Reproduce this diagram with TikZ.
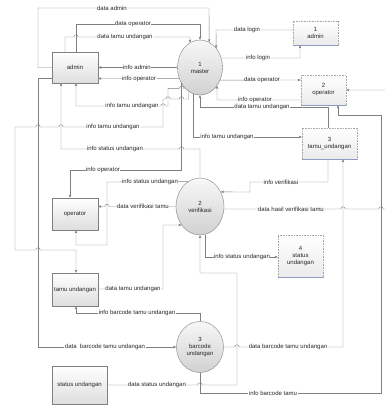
\documentclass[tikz,border=0pt]{standalone}
\usepackage{fontspec}
\setmainfont{Liberation Sans}
\usetikzlibrary{arrows.meta,shapes.geometric}
\definecolor{storeline}{RGB}{140,158,195}
\newcommand\hopR[2]{-- (#1-2.2,#2) .. controls (#1-2.2,#2-3) and (#1+2.2,#2-3) .. (#1+2.2,#2)}
\newcommand\hopL[2]{-- (#1+2.2,#2) .. controls (#1+2.2,#2-3) and (#1-2.2,#2-3) .. (#1-2.2,#2)}
\begin{document}
\begin{tikzpicture}[x=1pt,y=-1pt,font=\fontsize{6}{7}\selectfont,
  entity/.style={draw=black!50,top color=white,bottom color=black!13,inner sep=0pt,align=center,text=black!85},
  store/.style={draw=black!35,dash pattern=on 0.8pt off 0.8pt,top color=white,bottom color=black!8,inner sep=0pt,align=center,text=black!85},
  proc/.style={ellipse,draw=black!50,top color=black!3,bottom color=black!18,inner sep=0pt,align=center,text=black!85},
  flow/.style={draw=black!50,line width=0.4pt,-{Stealth[length=3.2pt,width=2.6pt]}},
  lbl/.style={fill=white,inner sep=0.5pt,text=black!85}]
\fill[white] (0,0) rectangle (384,405);
\useasboundingbox (0,0) rectangle (384,405);

% external entities
\node[entity,minimum width=46pt,minimum height=31pt] (admin) at (75,67.5) {admin};
\node[entity,minimum width=46pt,minimum height=32pt] (operator) at (75,214) {operator};
\node[entity,minimum width=46pt,minimum height=33pt] (tamuE) at (75,289.5) {tamu undangan};
\node[entity,minimum width=55pt,minimum height=38pt] (statusE) at (79.5,385) {status undangan};

% processes
\node[proc,minimum width=45pt,minimum height=55pt] (master) at (200,67.5) {1\\master};
\node[proc,minimum width=48pt,minimum height=57pt] (verif) at (200,206.5) {2\\verifikasi};
\node[proc,minimum width=47pt,minimum height=51pt] (barcode) at (200,347) {3\\barcode\\undangan};

% data stores
\node[store,minimum width=45pt,minimum height=24pt] (store1) at (315.5,33) {1\\admin};
\node[store,minimum width=45pt,minimum height=30pt] (store2) at (323.5,90) {2\\operator};
\node[store,minimum width=55pt,minimum height=31pt] (store3) at (329.5,143.5) {3\\tamu\_undangan};
\node[store,minimum width=45pt,minimum height=42pt] (store4) at (300.5,256) {4\\status\\undangan};
\foreach \s in {store1,store2,store3,store4}
  \draw[storeline,line width=0.6pt] (\s.south west) -- (\s.south east);

% flows
\draw[flow] (admin.west) -- (38,67.5) -- (38,8) -- (209,8) -- (master.70.3);
\draw[flow] (admin.north -| 76,0) -- (76,24) -- (200,24) -- (master.north);
\draw[flow] (admin.north -| 65,0) -- (65,37) \hopR{76}{37} -- (190,37) -- (master.112.1);
\draw[flow] (store1.west |- 0,30) -- (216,30) -- (master.50.3);
\draw[flow] (master.24.2) -- (300,58) -- (store1.south -| 300,0);
\draw[flow] (master.west) -- (admin.east);
\draw[flow] (master.328) -- (store2.west |- 0,80);
\draw[flow] (store2.west |- 0,100) -- (217,100) -- (master.313.4);
\draw[flow] (master.208) -- (admin.east |- 0,78.5);
\draw[flow] (master.235) \hopL{181.45}{88.4} -- (168,88.4) -- (168,106) \hopL{163}{106} -- (76,106) -- (admin.south -| 76,0);
\draw[flow] (master.245) -- (master.245 |- 0,99) \hopL{181.45}{99} \hopL{168}{99} -- (163,99) -- (163,127) \hopL{61}{127} \hopL{38}{127} -- (15,127) -- (15,250) \hopR{38}{250} -- (76,250) -- (tamuE.north -| 76,0);
\draw[flow] (master.256) -- (master.256 |- 0,137) -- (store3.west |- 0,137);
\draw[flow] (store3.north -| 328,0) -- (328,107) -- (200,107) -- (master.south);
\draw[flow] (master.220) -- (master.220 |- 0,170) -- (70,170) -- (operator.north -| 70,0);
\draw[flow] (verif.north) -- (200,149) \hopL{181.45}{149} -- (61,149) -- (admin.south -| 61,0);
\draw[flow] (store3.south -| 328,0) -- (328,182) -- (250,182) -- (250,192) -- (verif.35.1);
\draw[flow] (verif.354) \hopR{343}{209} \hopR{381}{209} -- (390,209) -- (390,90) -- (store2.east |- 0,90);
\draw[flow] (barcode.east) \hopR{237}{347} -- (343,347) -- (store3.south -| 343,0);
\draw[flow] (barcode.south) -- (200,393) -- (381,393) -- (381,115) -- (338,115) -- (store2.south -| 338,0);
\draw[flow] (verif.280.2) -- (verif.280.2 |- 0,257) -- (store4.west |- 0,257);
\draw[flow] (statusE.east) \hopR{200}{385} -- (237,385) -- (237,273) -- (200,273) -- (verif.south);
\draw[flow] (verif.west) \hopL{107}{206.5} -- (operator.east |- 0,206.5);
\draw[flow] (verif.116.6) -- (107,182) -- (107,245) -- (76,245) -- (operator.south -| 76,0);
\draw[flow] (tamuE.east |- 0,289) -- (163,289) -- (163,225) -- (verif.225.4);
\draw[flow] (barcode.north) -- (200,313) -- (76,313) -- (tamuE.south -| 76,0);
\draw[flow] (admin.west |- 0,78) -- (38,78) -- (38,347) -- (barcode.west);

% labels
\node[lbl] (l1) at (112,8) {data admin};
\node[lbl] (l2) at (133,24) {data operator};
\node[lbl] (l3) at (125,37) {data tamu undangan};
\node[lbl] (l4) at (247,30) {data login};
\node[lbl] (l5) at (258,58) {info login};
\node[lbl] (l6) at (137,67.5) {info admin};
\node[lbl] (l7) at (139,78.5) {info operator};
\node[lbl] (l8) at (132,106) {info tamu undangan};
\node[lbl] (l9) at (113,127) {info tamu undangan};
\node[lbl] (l10) at (115,149) {info status undangan};
\node[lbl] (l11) at (103,170) {info operator};
\node[lbl] (l12) at (150,182) {info status undangan};
\node[lbl] (l13) at (143,206.5) {data verifikasi tamu};
\node[lbl] (l14) at (262,80) {data operator};
\node[lbl] (l15) at (255,100) {info operator};
\node[lbl] (l16) at (262,107) {data tamu undangan};
\node[lbl] (l17) at (227,137) {info tamu undangan};
\node[lbl] (l18) at (281,182) {info verifikasi};
\node[lbl] (l19) at (291,209) {data hasil verifikasi tamu};
\node[lbl] (l20) at (242,257) {info status undangan};
\node[lbl] (l21) at (133,289) {data tamu undangan};
\node[lbl] (l22) at (137,313) {info barcode tamu undangan};
\node[lbl] (l23) at (105,347) {data\ \ barcode tamu undangan};
\node[lbl] (l24) at (288,347) {data barcode tamu undangan};
\node[lbl] (l25) at (157,385) {data status undangan};
\node[lbl] (l26) at (273,393) {info barcode tamu};
\end{tikzpicture}
\end{document}
